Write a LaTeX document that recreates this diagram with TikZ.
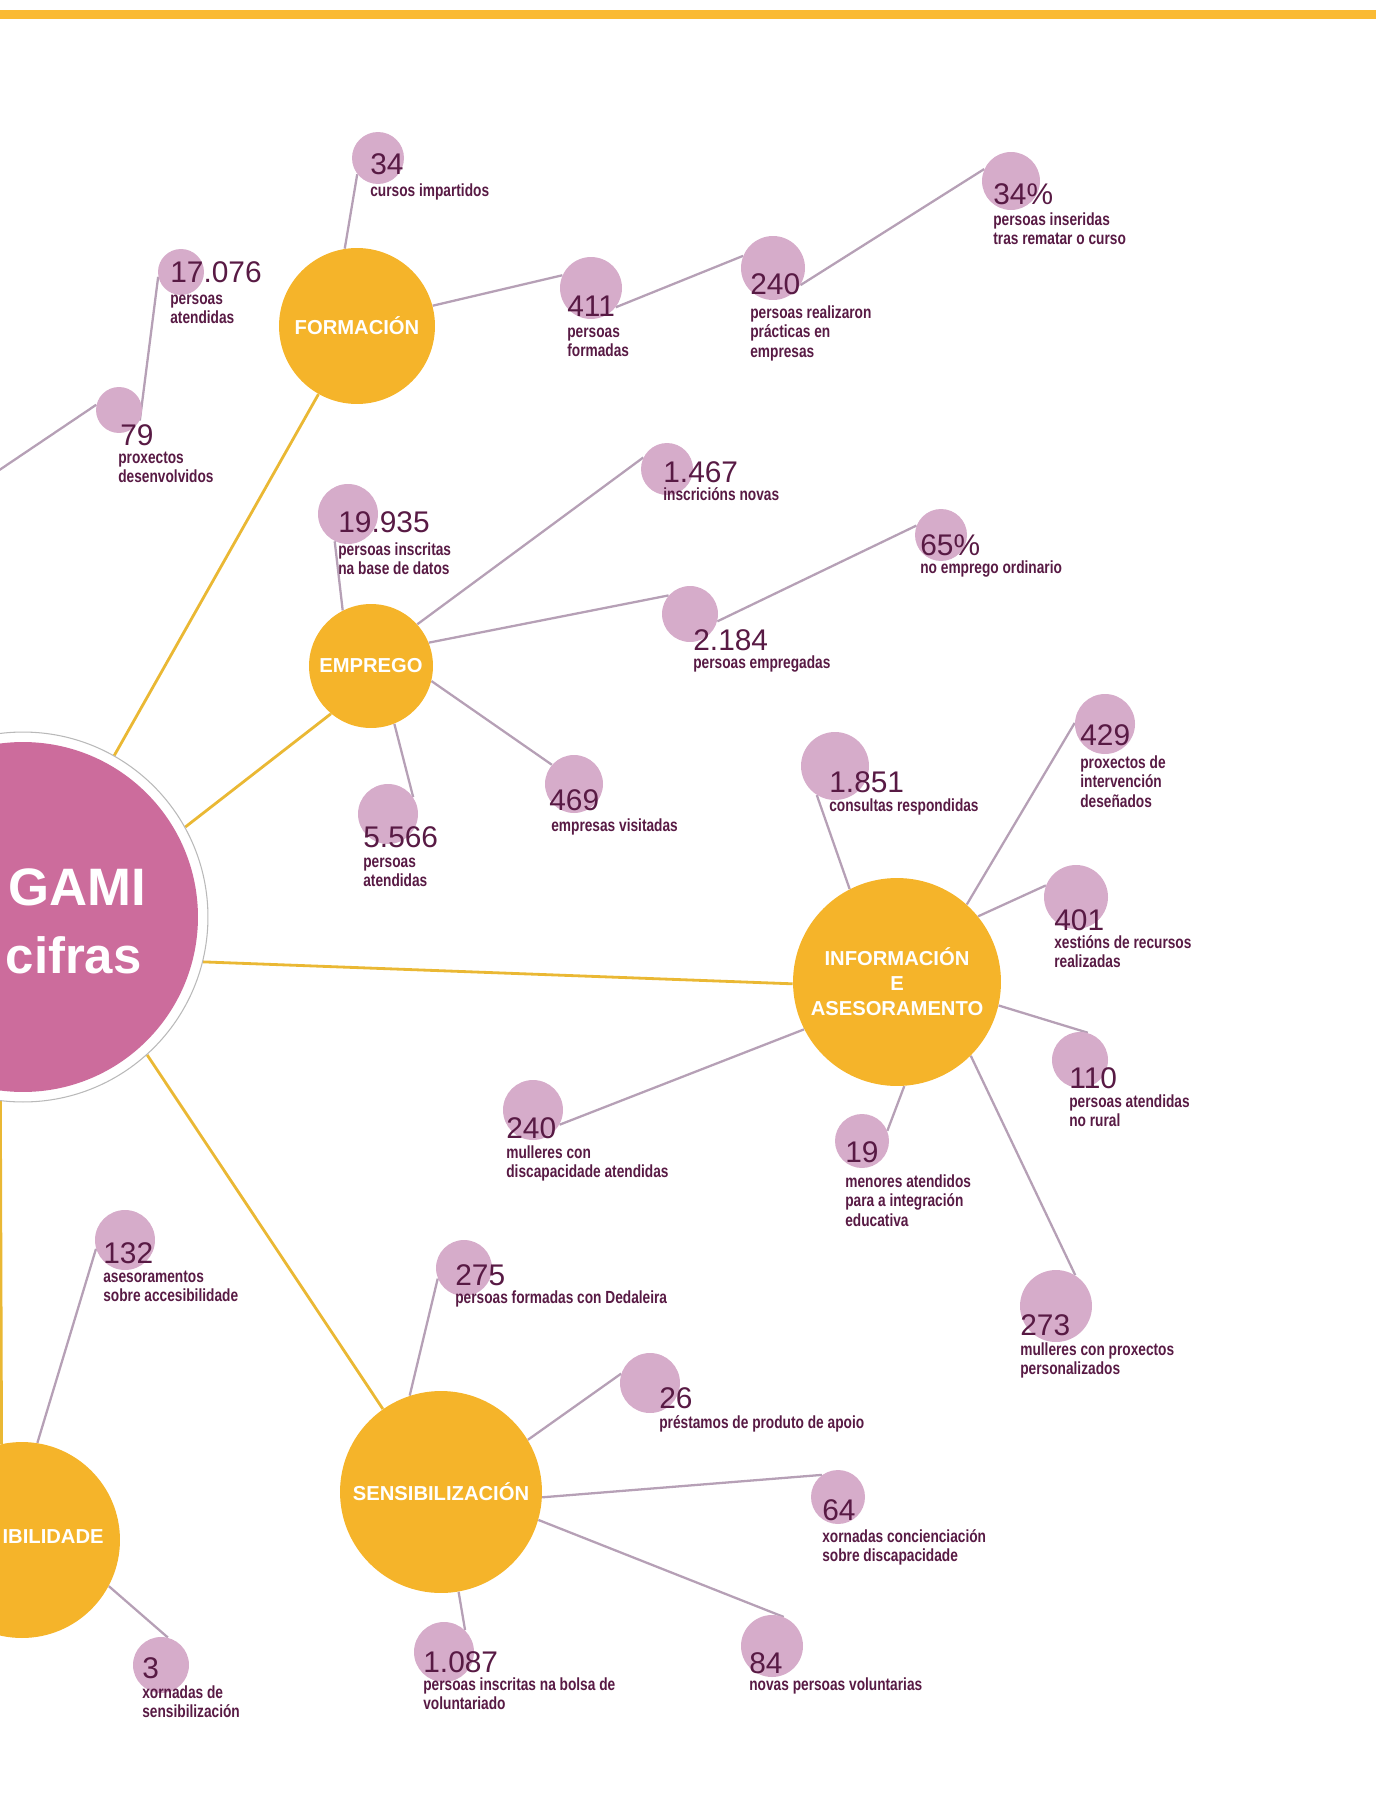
\documentclass[tikz,border=0pt]{standalone}
\usepackage{fontspec}
\setmainfont{Liberation Sans}
\newfontfamily\estreita[FakeStretch=0.78]{Liberation Sans}
\pgfdeclarelayer{background}
\pgfsetlayers{background,main}
\definecolor{barra}{RGB}{250,186,52}
\definecolor{ouro}{RGB}{245,180,42}
\definecolor{raiocor}{RGB}{234,184,52}
\definecolor{rosa}{RGB}{204,108,156}
\definecolor{malva}{RGB}{214,172,202}
\definecolor{fiocor}{RGB}{182,160,182}
\definecolor{ameixa}{RGB}{88,26,68}
\newcommand{\dstrut}{\rule{0pt}{7.4pt}}
\tikzstyle{area}=[circle, fill=ouro, text=white, inner sep=0pt, align=center,
  font=\fontsize{11.5}{14.2}\selectfont\bfseries]
\tikzstyle{titulo}=[anchor=base east, inner sep=0pt, text=white,
  font=\fontsize{30}{34}\selectfont\bfseries]
\tikzstyle{dato}=[circle, fill=malva, inner sep=0pt]
\tikzstyle{cifra}=[anchor=base west, inner sep=0pt, text=ameixa,
  font=\fontsize{17}{20}\selectfont]
\tikzstyle{texto}=[anchor=north west, inner sep=0pt, align=left, text=ameixa,
  font=\estreita\bfseries\fontsize{10}{11.1}\selectfont]
\tikzstyle{raio}=[draw, color=raiocor, line width=1.6pt]
\tikzstyle{fio}=[draw, color=fiocor, line width=1.3pt]

\begin{document}
\begin{tikzpicture}[x=0.02cm,y=-0.02cm]
  \useasboundingbox (0,0) rectangle (1376,1807);
  \clip (0,0) rectangle (1376,1807);
  \fill[barra] (0,10) rectangle (1376,19);

  % circulo central
  \path (23,917) node (M) [circle, draw=gray!55, line width=0.6pt, fill=white,
    minimum size=7.4cm, inner sep=0pt] {};
  \path (M.center) node (Mi) [circle, fill=rosa, minimum size=7.0cm, inner sep=0pt] {};
  \path (146,905) node (tm1) [titulo] {GAMI};
  \path (142,973) node (tm2) [titulo, font=\fontsize{29}{34}\selectfont\bfseries] {cifras};

  % areas
  \path (357,326) node (form) [area, minimum size=3.12cm] {FORMACIÓN};
  \path (371,666) node (empr) [area, minimum size=2.48cm] {EMPREGO};
  \path (897,982) node (info) [area, minimum size=4.16cm] {INFORMACIÓN\\E\\ASESORAMENTO};
  \path (441,1492) node (sens) [area, minimum size=4.04cm] {SENSIBILIZACIÓN};
  \path (22,1540) node (acce) [area, minimum size=3.92cm] {};
  \path (104,1537) node (tacc) [anchor=east, inner sep=0pt, text=white,
    font=\fontsize{11.5}{14.2}\selectfont\bfseries] {IBILIDADE};

  % datos
  \path (378,158) node (c34) [dato, minimum size=1.04cm] {};
  \path (181,272) node (c17076) [dato, minimum size=0.92cm] {};
  \path (119,410) node (c79) [dato, minimum size=0.92cm] {};
  \path (591,288) node (c411) [dato, minimum size=1.24cm] {};
  \path (773,268) node (c240) [dato, minimum size=1.28cm] {};
  \path (1011,181) node (c34p) [dato, minimum size=1.16cm] {};
  \path (348,514) node (c19935) [dato, minimum size=1.2cm] {};
  \path (667,469) node (c1467) [dato, minimum size=1.04cm] {};
  \path (690,614) node (c2184) [dato, minimum size=1.12cm] {};
  \path (941,535) node (c65) [dato, minimum size=1.04cm] {};
  \path (574,784) node (c469) [dato, minimum size=1.16cm] {};
  \path (388,814) node (c5566) [dato, minimum size=1.2cm] {};
  \path (835,766) node (c1851) [dato, minimum size=1.36cm] {};
  \path (1105,724) node (c429) [dato, minimum size=1.2cm] {};
  \path (1076,897) node (c401) [dato, minimum size=1.28cm] {};
  \path (1080,1060) node (c110) [dato, minimum size=1.12cm] {};
  \path (862,1141) node (c19) [dato, minimum size=1.08cm] {};
  \path (533,1110) node (c240w) [dato, minimum size=1.2cm] {};
  \path (1056,1306) node (c273) [dato, minimum size=1.44cm] {};
  \path (464,1268) node (c275) [dato, minimum size=1.12cm] {};
  \path (650,1383) node (c26) [dato, minimum size=1.2cm] {};
  \path (838,1497) node (c64) [dato, minimum size=1.08cm] {};
  \path (772,1646) node (c84) [dato, minimum size=1.24cm] {};
  \path (444,1652) node (c1087) [dato, minimum size=1.2cm] {};
  \path (125,1240) node (c132) [dato, minimum size=1.2cm] {};
  \path (161,1665) node (c3) [dato, minimum size=1.12cm] {};
  \coordinate (esq) at (-60,510);

  % cifras e textos
  \path (370,175) node (n34) [cifra] {34};
  \path (370,183) node (d34) [texto] {\dstrut cursos impartidos};
  \path (170,283) node (n17076) [cifra] {17.076};
  \path (170,291) node (d17076) [texto] {\dstrut persoas\\atendidas};
  \path (120,445) node (n79) [cifra] {79};
  \path (118,450) node (d79) [texto] {\dstrut proxectos\\desenvolvidos};
  \path (567,317) node (n411) [cifra] {411};
  \path (567,324) node (d411) [texto] {\dstrut persoas\\formadas};
  \path (750,295) node (n240) [cifra] {240};
  \path (750,305) node (d240) [texto] {\dstrut persoas realizaron\\prácticas en\\empresas};
  \path (993,205) node (n34p) [cifra] {34\%};
  \path (993,212) node (d34p) [texto] {\dstrut persoas inseridas\\tras rematar o curso};
  \path (338,532) node (n19935) [cifra] {19.935};
  \path (338,542) node (d19935) [texto] {\dstrut persoas inscritas\\na base de datos};
  \path (663,482) node (n1467) [cifra] {1.467};
  \path (663,487) node (d1467) [texto] {\dstrut inscricións novas};
  \path (693,650) node (n2184) [cifra] {2.184};
  \path (693,655) node (d2184) [texto] {\dstrut persoas empregadas};
  \path (920,555) node (n65) [cifra] {65\%};
  \path (920,560) node (d65) [texto] {\dstrut no emprego ordinario};
  \path (549,810) node (n469) [cifra] {469};
  \path (551,818) node (d469) [texto] {\dstrut empresas visitadas};
  \path (363,847) node (n5566) [cifra] {5.566};
  \path (363,854) node (d5566) [texto] {\dstrut persoas\\atendidas};
  \path (829,792) node (n1851) [cifra] {1.851};
  \path (829,798) node (d1851) [texto] {\dstrut consultas respondidas};
  \path (1080,745) node (n429) [cifra] {429};
  \path (1080,755) node (d429) [texto] {\dstrut proxectos de\\intervención\\deseñados};
  \path (1054,930) node (n401) [cifra] {401};
  \path (1054,935) node (d401) [texto] {\dstrut xestións de recursos\\realizadas};
  \path (1069,1088) node (n110) [cifra] {110};
  \path (1069,1094) node (d110) [texto] {\dstrut persoas atendidas\\no rural};
  \path (845,1162) node (n19) [cifra] {19};
  \path (845,1174) node (d19) [texto] {\dstrut menores atendidos\\para a integración\\educativa};
  \path (506,1138) node (n240w) [cifra] {240};
  \path (506,1145) node (d240w) [texto] {\dstrut mulleres con\\discapacidade atendidas};
  \path (1020,1335) node (n273) [cifra] {273};
  \path (1020,1342) node (d273) [texto] {\dstrut mulleres con proxectos\\personalizados};
  \path (455,1285) node (n275) [cifra] {275};
  \path (455,1290) node (d275) [texto] {\dstrut persoas formadas con Dedaleira};
  \path (659,1408) node (n26) [cifra] {26};
  \path (659,1415) node (d26) [texto] {\dstrut préstamos de produto de apoio};
  \path (822,1520) node (n64) [cifra] {64};
  \path (822,1529) node (d64) [texto] {\dstrut xornadas concienciación\\sobre discapacidade};
  \path (749,1673) node (n84) [cifra] {84};
  \path (749,1677) node (d84) [texto] {\dstrut novas persoas voluntarias};
  \path (423,1672) node (n1087) [cifra] {1.087};
  \path (423,1677) node (d1087) [texto] {\dstrut persoas inscritas na bolsa de\\voluntariado};
  \path (103,1263) node (n132) [cifra] {132};
  \path (103,1269) node (d132) [texto] {\dstrut asesoramentos\\sobre accesibilidade};
  \path (142,1678) node (n3) [cifra] {3};
  \path (142,1685) node (d3) [texto] {\dstrut xornadas de\\sensibilización};

  \begin{pgfonlayer}{background}
    \path [raio] (M) -- (form);
    \path [raio] (M.29) -- (empr.230);
    \path [raio] (M.-14) -- (info.181);
    \path [raio] (M.-48) -- (sens.125);
    \path [raio] (M.263) -- (acce.102);

    \path [fio] (form.99) -- (c34.218);
    \path [fio] (form.15) -- (c411.156);
    \path [fio] (c411.-38) -- (c240.158);
    \path [fio] (c240.-32) -- (c34p.156);
    \path [fio] (c17076.192) -- (c79.-27);
    \path [fio] (c79.167) -- (esq);
    \path [fio] (empr.117) -- (c19935.244);
    \path [fio] (empr.42) -- (c1467.154);
    \path [fio] (empr.22) -- (c2184.139);
    \path [fio] (c2184.-15) -- (c65.159);
    \path [fio] (empr.-14) -- (c469.139);
    \path [fio] (empr.-68) -- (c5566.34);
    \path [fio] (info.117) -- (c1851.238);
    \path [fio] (info.48) -- (c429.178);
    \path [fio] (info.39) -- (c401.159);
    \path [fio] (info.-13) -- (c110.74);
    \path [fio] (info.-86) -- (c19.22);
    \path [fio] (info.207) -- (c240w.-29);
    \path [fio] (info.-45) -- (c273.58);
    \path [fio] (sens.108) -- (c275.202);
    \path [fio] (sens.31) -- (c26.162);
    \path [fio] (sens.-3) -- (c64.126);
    \path [fio] (sens.-16) -- (c84.68);
    \path [fio] (sens.-80) -- (c1087.46);
    \path [fio] (acce.81) -- (c132.197);
    \path [fio] (acce.-28) -- (c3.76);
  \end{pgfonlayer}
\end{tikzpicture}
\end{document}
